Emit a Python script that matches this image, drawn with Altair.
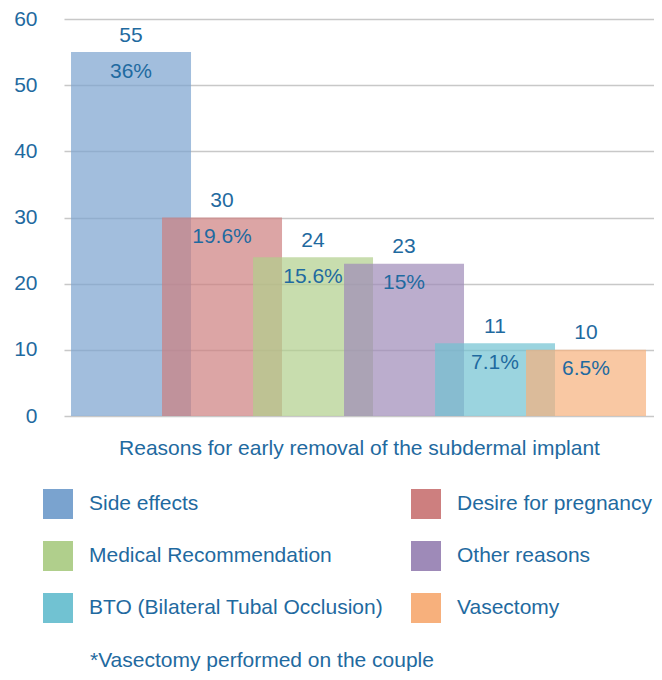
import altair as alt
import pandas as pd

reasons = ["Side effects", "Desire for pregnancy", "Medical Recommendation",
           "Other reasons", "BTO (Bilateral Tubal Occlusion)", "Vasectomy"]
counts = [55, 30, 24, 23, 11, 10]
percents = ["36%", "19.6%", "15.6%", "15%", "7.1%", "6.5%"]
colors = ["#7aa3cf", "#cd7f7f", "#b0cf8c", "#9e8ab8", "#71c2d2", "#f7b07c"]
y_ticks = [0, 10, 20, 30, 40, 50, 60]
x_title = "Reasons for early removal of the subdermal implant"
footnote = "*Vasectomy performed on the couple"

TEXT = "#1f6aa0"
FONT = "Liberation Sans"
FS = 21

df = pd.DataFrame({"reason": reasons, "count": counts, "pct": percents})

x_scale = alt.Scale(paddingInner=0, paddingOuter=0.2418, align=0.489)

x_enc = alt.X("reason:N", sort=reasons, scale=x_scale,
              axis=alt.Axis(title=x_title, labels=False, ticks=False, domain=False,
                            grid=False,
                            titleFontSize=FS, titleFont=FONT, titleColor=TEXT,
                            titleFontWeight="normal", titlePadding=21))
y_enc = alt.Y("count:Q", scale=alt.Scale(domain=[0, 60]),
              axis=alt.Axis(title=None, values=y_ticks, ticks=False, domain=False,
                            labelFontSize=FS, labelFont=FONT, labelColor=TEXT,
                            labelPadding=27, gridColor="#c8c8c8", gridWidth=1.5))

bars = alt.Chart(df).mark_bar(size=120, opacity=0.7).encode(
    x=x_enc,
    y=y_enc,
    color=alt.Color("reason:N", sort=reasons,
                    scale=alt.Scale(domain=reasons, range=colors),
                    legend=alt.Legend(title=None, orient="none", legendX=-21, legendY=470,
                                      columns=2, direction="horizontal",
                                      symbolType="square", symbolSize=900,
                                      symbolOpacity=1, symbolStrokeWidth=0,
                                      labelFontSize=FS, labelFont=FONT, labelColor=TEXT,
                                      labelOffset=16, labelLimit=0, columnPadding=27,
                                      rowPadding=22, padding=0)),
    order=alt.Order("count:Q", sort="descending"),
)

val_labels = alt.Chart(df).mark_text(dy=-16.5, baseline="middle", fontSize=FS,
                                     font=FONT, color=TEXT).encode(
    x=alt.X("reason:N", sort=reasons, scale=x_scale),
    y="count:Q", text="count:Q")

pct_labels = alt.Chart(df).mark_text(dy=19.5, baseline="middle", fontSize=FS,
                                     font=FONT, color=TEXT).encode(
    x=alt.X("reason:N", sort=reasons, scale=x_scale),
    y="count:Q", text="pct:N")

note = alt.Chart(pd.DataFrame({"t": [footnote]})).mark_text(
    align="left", baseline="alphabetic", fontSize=FS, font=FONT, color=TEXT).encode(
    x=alt.value(26), y=alt.value(648), text="t:N")

chart = alt.layer(bars, val_labels, pct_labels, note).properties(
    width=590, height=397,
    background="white",
    autosize=alt.AutoSizeParams(type="none"),
    padding={"left": 56, "top": 11, "right": 0, "bottom": 256},
).configure_view(stroke="transparent", strokeWidth=0).configure_axisX(grid=False)

chart.save("out.html", embed_options={"renderer": "svg", "actions": False})
